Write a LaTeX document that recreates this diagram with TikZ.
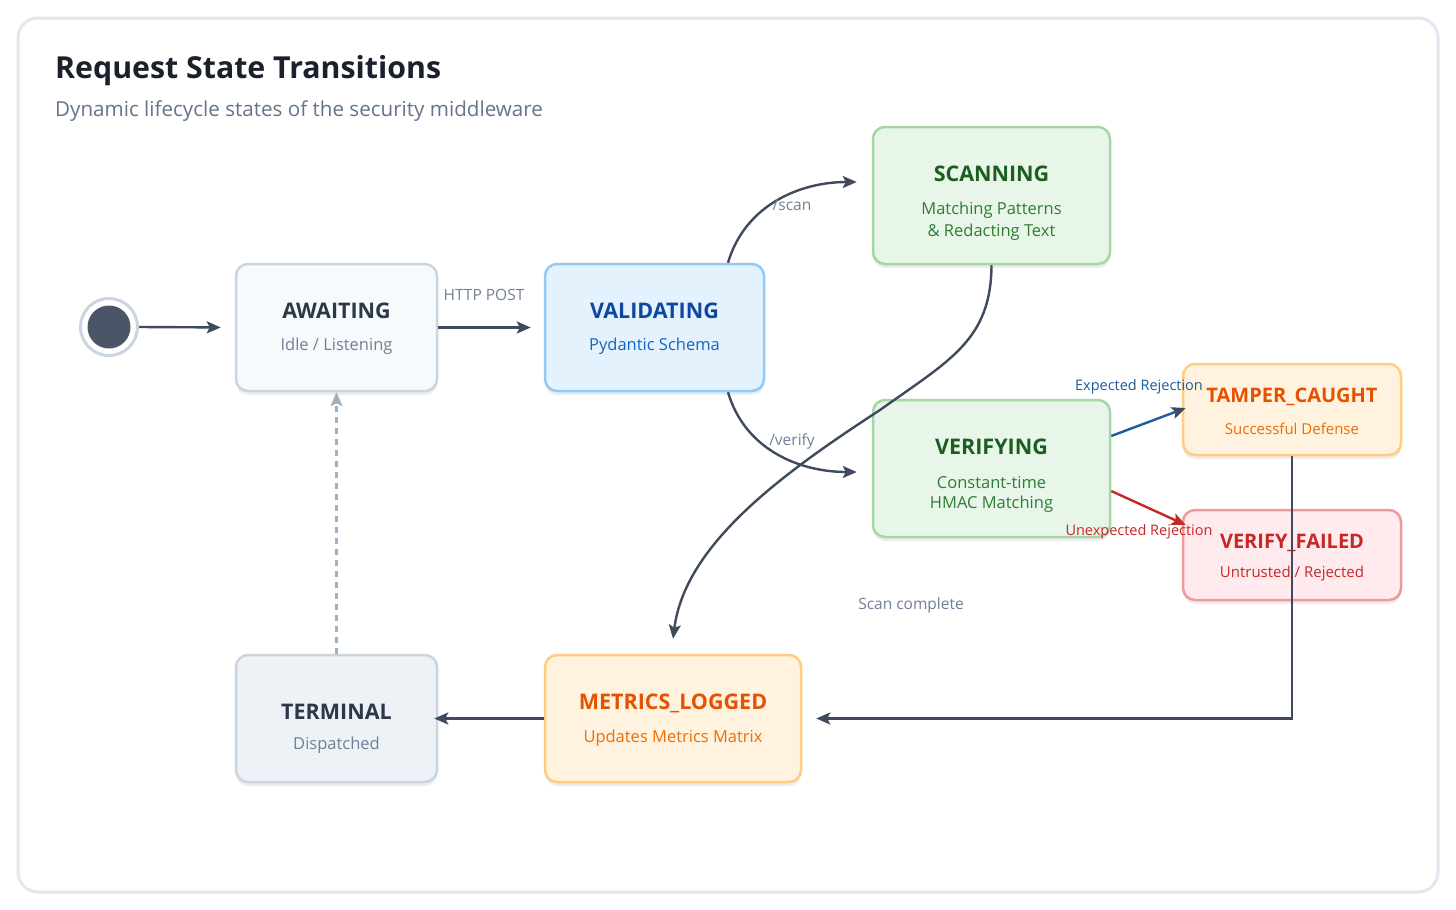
\documentclass[tikz,border=0pt]{standalone}
\usepackage{fontspec}
\setmainfont{Open Sans}
\usetikzlibrary{arrows.meta,shadows,calc}
\definecolor{frameC}{HTML}{E2E8F0}
\definecolor{arrC}{HTML}{3F4A5C}
\definecolor{dotC}{HTML}{4A5568}
\definecolor{ringC}{HTML}{CBD5E0}
\definecolor{grayFill}{HTML}{F7FAFC}
\definecolor{grayFillB}{HTML}{EDF2F7}
\definecolor{grayTitle}{HTML}{2D3748}
\definecolor{graySub}{HTML}{718096}
\definecolor{blueFill}{HTML}{E3F2FD}
\definecolor{blueDraw}{HTML}{90CAF9}
\definecolor{blueTitle}{HTML}{0D47A1}
\definecolor{blueSub}{HTML}{1565C0}
\definecolor{greenFill}{HTML}{E8F5E9}
\definecolor{greenDraw}{HTML}{A5D6A7}
\definecolor{greenTitle}{HTML}{1B5E20}
\definecolor{greenSub}{HTML}{2E7D32}
\definecolor{orFill}{HTML}{FFF3E0}
\definecolor{orDraw}{HTML}{FFCC80}
\definecolor{orTitle}{HTML}{E65100}
\definecolor{orSub}{HTML}{EF6C00}
\definecolor{redFill}{HTML}{FFEBEE}
\definecolor{redDraw}{HTML}{EF9A9A}
\definecolor{redTitle}{HTML}{C62828}
\definecolor{expC}{HTML}{1E5C9B}
\definecolor{dashC}{HTML}{A0AEC0}
\definecolor{headC}{HTML}{1A202C}
\definecolor{subHeadC}{HTML}{64748B}
\tikzset{
  statebox/.style={rounded corners=12pt, line width=2.5pt, minimum height=127pt,
    drop shadow={shadow xshift=0pt, shadow yshift=-4pt, opacity=0.07, fill=black}},
  ttl/.style={font=\fontsize{21.5}{25}\selectfont\bfseries, inner sep=0pt},
  ttls/.style={font=\fontsize{20}{24}\selectfont\bfseries, inner sep=0pt},
  sub/.style={font=\fontsize{16.5}{20}\selectfont, inner sep=0pt},
  subs/.style={font=\fontsize{15}{18}\selectfont, inner sep=0pt},
  lbl/.style={font=\fontsize{15.5}{18}\selectfont, inner sep=0pt, text=graySub},
  arr/.style={draw=arrC, line width=2.4pt, -{Stealth[length=14pt,width=12pt,inset=3pt]}},
}
\begin{document}
\begin{tikzpicture}[x=1pt,y=-1pt]
\useasboundingbox (0,0) rectangle (1456,910);
\fill[white] (0,0) rectangle (1456,910);
\draw[frameC, line width=3pt, rounded corners=20pt] (18,18) rectangle (1438,892);

\node[anchor=west, inner sep=0pt, text=headC, font=\fontsize{30.3}{36}\selectfont\bfseries] (title) at (55,71) {Request State Transitions};
\node[anchor=west, inner sep=0pt, text=subHeadC, font=\fontsize{20.6}{24}\selectfont] (subtitle) at (55,111) {Dynamic lifecycle states of the security middleware};

% initial state
\node[circle, draw=ringC, fill=white, line width=3pt, minimum size=57pt, inner sep=0pt] (start) at (109,327) {};
\fill[dotC] (start.center) circle (21.5pt);

% state boxes
\node[statebox, fill=grayFill, draw=ringC, minimum width=201pt] (await) at (336.5,327.5) {};
\node[ttl, text=grayTitle] (awaitT) at (336.5,311) {AWAITING};
\node[sub, text=graySub] (awaitS) at (336.5,346.5) {Idle / Listening};

\node[statebox, fill=blueFill, draw=blueDraw, minimum width=219pt] (valid) at (654.5,327.5) {};
\node[ttl, text=blueTitle] (validT) at (654.5,311) {VALIDATING};
\node[sub, text=blueSub] (validS) at (654.5,346.5) {Pydantic Schema};

\node[statebox, fill=greenFill, draw=greenDraw, minimum width=237pt, minimum height=137pt] (scan) at (991.5,195.5) {};
\node[ttl, text=greenTitle] (scanT) at (991.5,174) {SCANNING};
\node[sub, text=greenSub] (scanS1) at (991.5,210) {Matching Patterns};
\node[sub, text=greenSub] (scanS2) at (991.5,232) {\& Redacting Text};

\node[statebox, fill=greenFill, draw=greenDraw, minimum width=237pt, minimum height=137pt] (verif) at (991.5,468.5) {};
\node[ttl, text=greenTitle] (verifT) at (991.5,447) {VERIFYING};
\node[sub, text=greenSub] (verifS1) at (991.5,483) {Constant-time};
\node[sub, text=greenSub] (verifS2) at (991.5,504) {HMAC Matching};

\node[statebox, fill=orFill, draw=orDraw, minimum width=218pt, minimum height=91pt] (tamper) at (1292,409.5) {};
\node[ttls, text=orTitle] (tamperT) at (1292,397) {TAMPER\_CAUGHT};
\node[subs, text=orSub] (tamperS) at (1292,429) {Successful Defense};

\node[statebox, fill=redFill, draw=redDraw, minimum width=218pt, minimum height=90pt] (vfail) at (1292,555) {};
\node[ttls, text=redTitle] (vfailT) at (1292,543) {VERIFY\_FAILED};
\node[subs, text=redTitle] (vfailS) at (1292,574) {Untrusted / Rejected};

\node[statebox, fill=orFill, draw=orDraw, minimum width=256pt] (metrics) at (673,718.5) {};
\node[ttl, text=orTitle] (metricsT) at (673,703) {METRICS\_LOGGED};
\node[sub, text=orSub] (metricsS) at (673,738) {Updates Metrics Matrix};

\node[statebox, fill=grayFillB, draw=ringC, minimum width=201pt] (term) at (336.5,718.5) {};
\node[ttl, text=grayTitle] (termT) at (336.5,712) {TERMINAL};
\node[sub, text=graySub] (termS) at (336.5,745) {Dispatched};

% connectors
\draw[arr, shorten >=14pt] (start.east) -- (await.west);
\draw[arr, shorten >=13pt] (await.east) -- (valid.west);
\draw[arr] ([xshift=73.5pt]valid.north) .. controls (745,205) and (800,182) .. ([shift={(-15pt,13.5pt)}]scan.west);
\draw[arr] ([xshift=73.5pt]valid.south) .. controls (745,450) and (800,472) .. ([shift={(-15pt,-3.5pt)}]verif.west);
\coordinate (scanMid) at (880,410);
\draw[arr] (scan.south) .. controls (991,340) and (950,360) .. (scanMid)
  .. controls (780,475) and (685,545) .. ([yshift=15pt]metrics.north);
\draw[draw=expC, line width=2.4pt, -{Stealth[length=14pt,width=12pt,inset=3pt,color=arrC]}] ([yshift=32.5pt]verif.east) -- ([shift={(4pt,1.5pt)}]tamper.west);
\draw[draw=redTitle, line width=2.4pt, -{Stealth[length=14pt,width=12pt,inset=3pt]}] ([yshift=-22.5pt]verif.east) -- ([shift={(4pt,30pt)}]vfail.west);
\draw[arr] (tamper.south) |- ([xshift=14pt]metrics.east);
\draw[arr] (metrics.west) -- ([xshift=-4pt]term.east);
\draw[draw=dashC, line width=2.2pt, dash pattern=on 6pt off 5pt, -{Stealth[length=14pt,width=12pt,inset=3pt]}] (term.north) -- (await.south);

% labels
\node[lbl] (lHttp) at (484,295) {HTTP POST};
\node[lbl] (lScan) at (792,205) {/scan};
\node[lbl] (lVerify) at (792,441) {/verify};
\node[lbl] (lDone) at (911,605) {Scan complete};
\node[lbl, text=expC, font=\fontsize{14.5}{17}\selectfont] (lExp) at (1139,387) {Expected Rejection};
\node[lbl, text=redTitle, font=\fontsize{14.5}{17}\selectfont] (lUnexp) at (1139,532) {Unexpected Rejection};
\end{tikzpicture}
\end{document}
